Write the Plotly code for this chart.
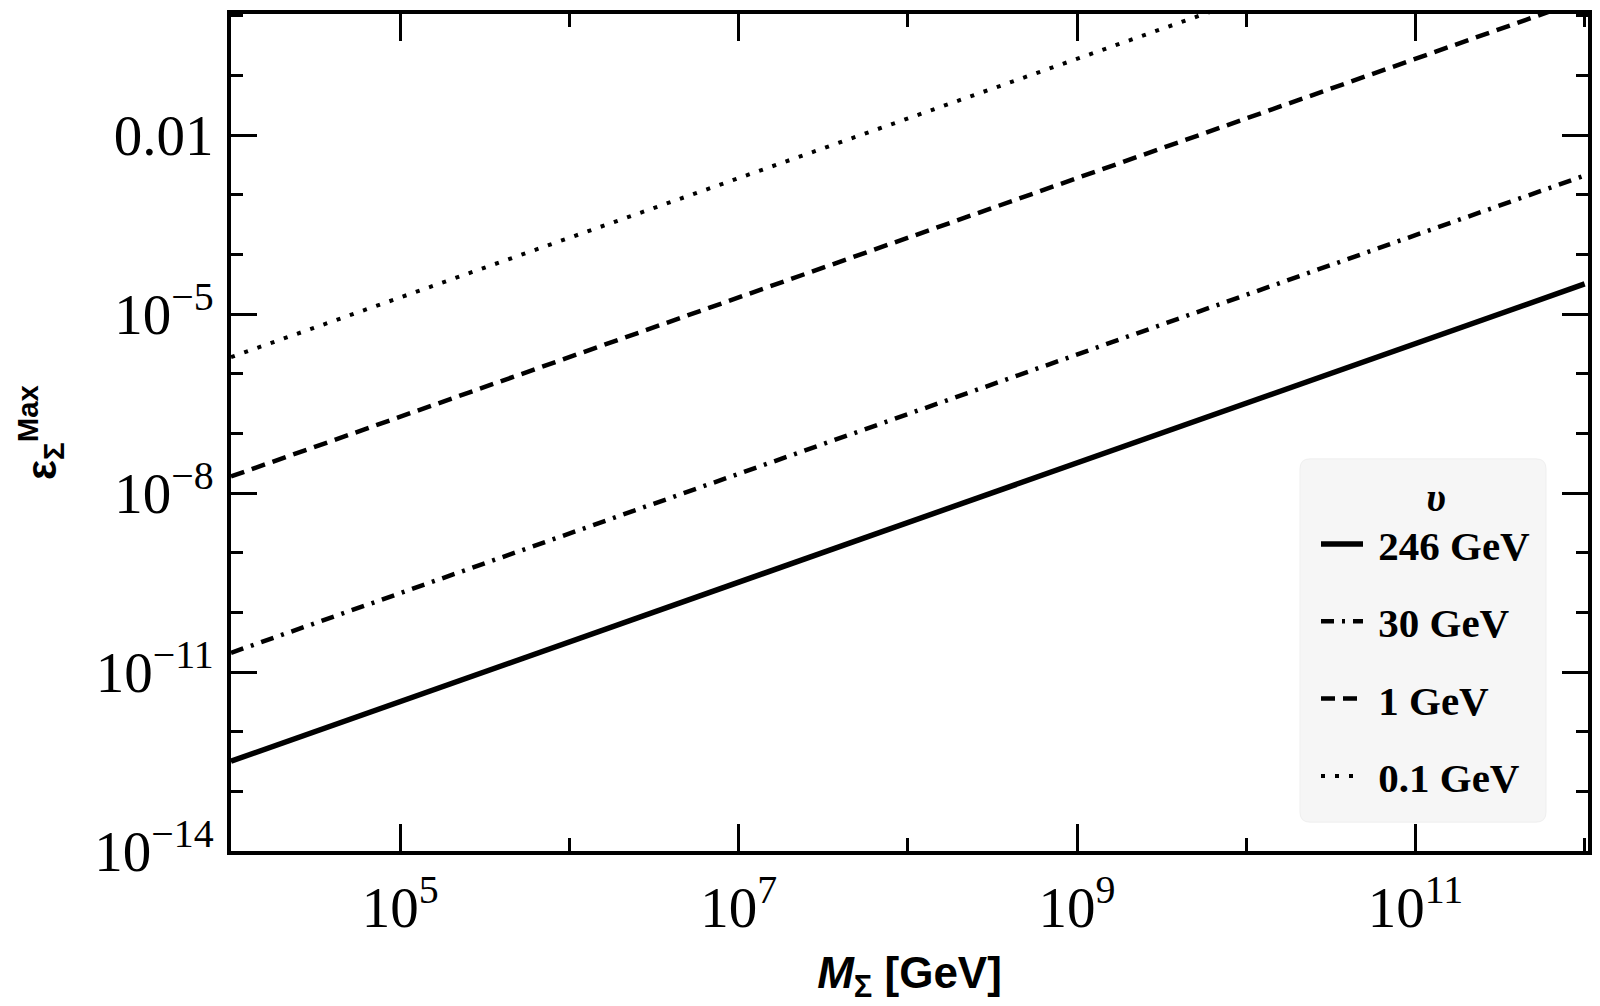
import plotly.graph_objects as go

# Data (log-log straight lines)
mass = [1e4, 1e6, 1e8, 1e10, 1e12]
eps_246 = [3.2e-13, 3.2e-11, 3.2e-9, 3.2e-7, 3.2e-5]
eps_30 = [2.1e-11, 2.1e-9, 2.1e-7, 2.1e-5, 2.1e-3]
eps_1 = [1.9e-8, 1.9e-6, 1.9e-4, 1.9e-2, 1.9]
eps_01 = [1.9e-6, 1.9e-4, 1.9e-2, 1.9, 190.0]

labels = ["246 GeV", "30 GeV", "1 GeV", "0.1 GeV"]
series = [eps_246, eps_30, eps_1, eps_01]
dashes = ["solid", "13px,8px,3px,8px", "14px,8px", "4px,10px"]
widths = [5.5, 4.5, 4.5, 4]

x_major = [1e5, 1e7, 1e9, 1e11]
x_major_text = ["10<sup>5</sup>", "10<sup>7</sup>", "10<sup>9</sup>", "10<sup>11</sup>"]
x_minor = [1e4, 1e6, 1e8, 1e10, 1e12]

y_major = [1e-14, 1e-11, 1e-8, 1e-5, 1e-2]
y_major_text = ["10<sup>\u221214</sup>", "10<sup>\u221211</sup>", "10<sup>\u22128</sup>",
                "10<sup>\u22125</sup>", "0.01"]
y_minor = [1e-13, 1e-12, 1e-10, 1e-9, 1e-7, 1e-6, 1e-4, 1e-3, 1e-1, 1.0]

fig = go.Figure()
for i, (lab, ys, d, w) in enumerate(zip(labels, series, dashes, widths)):
    fig.add_trace(go.Scatter(
        x=mass, y=ys, mode="lines", name="\u00a0" + lab, legendgroup=f"g{i}",
        line=dict(color="black", width=w, dash=d),
    ))

serif = "Liberation Serif, Times New Roman, serif"
sans = "Liberation Sans, Arial, sans-serif"

W, H = 1600, 1006
OFF = 8  # page body margin offset
# target plot area on screen: x 231..1587, y 10..851 -> figure coords
PL, PR, PT, PB = 231 - OFF, 1588 - OFF, 10 - OFF, 851 - OFF
pw, ph = PR - PL, PB - PT


def px_x(v):
    return (v - OFF - PL) / pw


def px_y(v):
    return (PB - (v - OFF)) / ph


# legend background box (rounded rectangle, paper coords)
bx0, bx1, by0, by1 = px_x(1300), px_x(1546), px_y(822), px_y(457)
rx, ry = 10 / pw, 10 / ph
legend_box = (
    f"M {bx0+rx},{by0} L {bx1-rx},{by0} Q {bx1},{by0} {bx1},{by0+ry} "
    f"L {bx1},{by1-ry} Q {bx1},{by1} {bx1-rx},{by1} "
    f"L {bx0+rx},{by1} Q {bx0},{by1} {bx0},{by1-ry} "
    f"L {bx0},{by0+ry} Q {bx0},{by0} {bx0+rx},{by0} Z"
)

fig.update_layout(
    width=W, height=H,
    margin=dict(l=PL, r=W - PR, t=PT, b=H - PB),
    paper_bgcolor="white", plot_bgcolor="white",
    showlegend=True,
    shapes=[dict(type="path", path=legend_box, xref="paper", yref="paper",
                 fillcolor="#f6f6f6", line=dict(color="#efefef", width=1),
                 layer="below")],
    legend=dict(
        x=px_x(1316), y=px_y(457), xanchor="left", yanchor="top",
        bgcolor="rgba(0,0,0,0)", borderwidth=0,
        font=dict(family=serif, size=41, color="black", weight="bold"),
        title=dict(text="\u00a0\u00a0<i>\u03c5</i>", side="top center",
                   font=dict(family=serif, size=40, color="black", weight="bold")),
        tracegroupgap=21,
        itemwidth=42,
    ),
)

fig.update_xaxes(
    type="log", range=[4, 12.02],
    showgrid=False, zeroline=False,
    showline=True, linecolor="black", linewidth=4, mirror="ticks",
    ticks="inside", ticklen=27, tickwidth=3, tickcolor="black",
    tickmode="array", tickvals=x_major, ticktext=x_major_text,
    tickfont=dict(family=serif, size=57, color="black"),
    ticklabelstandoff=4,
    minor=dict(tickmode="array", tickvals=x_minor, ticks="inside",
               ticklen=13, tickwidth=3, tickcolor="black", showgrid=False),
    title=dict(text="<b><i>M</i><sub>\u03a3</sub> [GeV]</b>",
               font=dict(family=sans, size=44, color="black"), standoff=20),
)
fig.update_yaxes(
    type="log", range=[-14, 0.03],
    showgrid=False, zeroline=False,
    showline=True, linecolor="black", linewidth=4, mirror="ticks",
    ticks="inside", ticklen=26, tickwidth=3, tickcolor="black",
    tickmode="array", tickvals=y_major, ticktext=y_major_text,
    tickfont=dict(family=serif, size=57, color="black"),
    ticklabelstandoff=2,
    minor=dict(tickmode="array", tickvals=y_minor, ticks="inside",
               ticklen=12, tickwidth=3, tickcolor="black", showgrid=False),
    title=dict(text="<b>\u03b5<sub>\u03a3</sub><sup>Max</sup></b>",
               font=dict(family=sans, size=42, color="black"), standoff=26),
)

fig.write_html("out.html")
